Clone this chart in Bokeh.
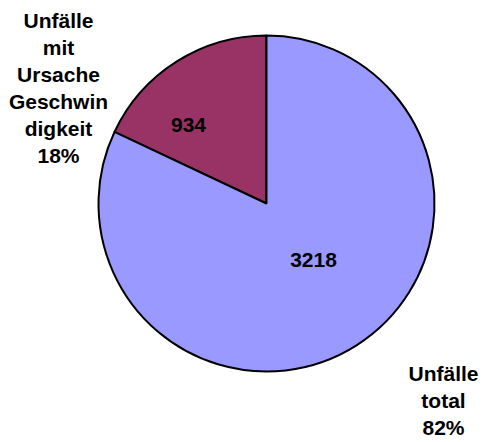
import math
from bokeh.plotting import figure
from bokeh.models import ColumnDataSource
from bokeh.core.properties import value
from bokeh.embed import file_html
from bokeh.resources import INLINE

# Data
categories = ["Unfälle mit Ursache Geschwindigkeit", "Unfälle total"]
shares = [18, 82]            # percent
counts = [934, 3218]         # value labels
colors = ["#993366", "#9999FF"]
outer_labels = [["Unfälle", "mit", "Ursache", "Geschwin", "digkeit", "18%"],
                ["Unfälle", "total", "82%"]]

W, H = 483, 442
p = figure(width=W, height=H, x_range=(0, W), y_range=(0, H),
           x_axis_type=None, y_axis_type=None, toolbar_location=None,
           output_backend="svg", min_border=0)
p.outline_line_color = None
p.grid.visible = False
p.background_fill_color = "white"
p.border_fill_color = "white"

cx, cy, r = 266, 239, 168

total = sum(shares)
starts, ends = [], []
a = math.pi / 2
for s in shares:
    starts.append(a)
    a += 2 * math.pi * s / total
    ends.append(a)

src = ColumnDataSource(dict(start=starts, end=ends, color=colors, cat=categories))
p.wedge(x=cx, y=cy, radius=r, start_angle="start", end_angle="end",
        direction="anticlock", fill_color="color", line_color="black",
        line_width=2, source=src)

FONT = value("Liberation Sans")
FS = "21px"

# value labels inside slices
vx = [188, 313]
vy = [318, 183]
p.text(x=vx, y=vy, text=[str(c) for c in counts], text_align="center",
       text_baseline="middle", text_font=FONT,
       text_font_style="bold", text_font_size=FS, text_color="black")

# outer labels, one line at a time
anchors = [(58, 422), (443, 69)]
line_gap = 27
lx, ly, lt = [], [], []
for (ax, ay), lines in zip(anchors, outer_labels):
    for i, t in enumerate(lines):
        lx.append(ax)
        ly.append(ay - i * line_gap)
        lt.append(t)
p.text(x=lx, y=ly, text=lt, text_align="center",
       text_baseline="middle", text_font=FONT,
       text_font_style="bold", text_font_size=FS, text_color="black")

open("out.html", "w").write(file_html(p, INLINE))
